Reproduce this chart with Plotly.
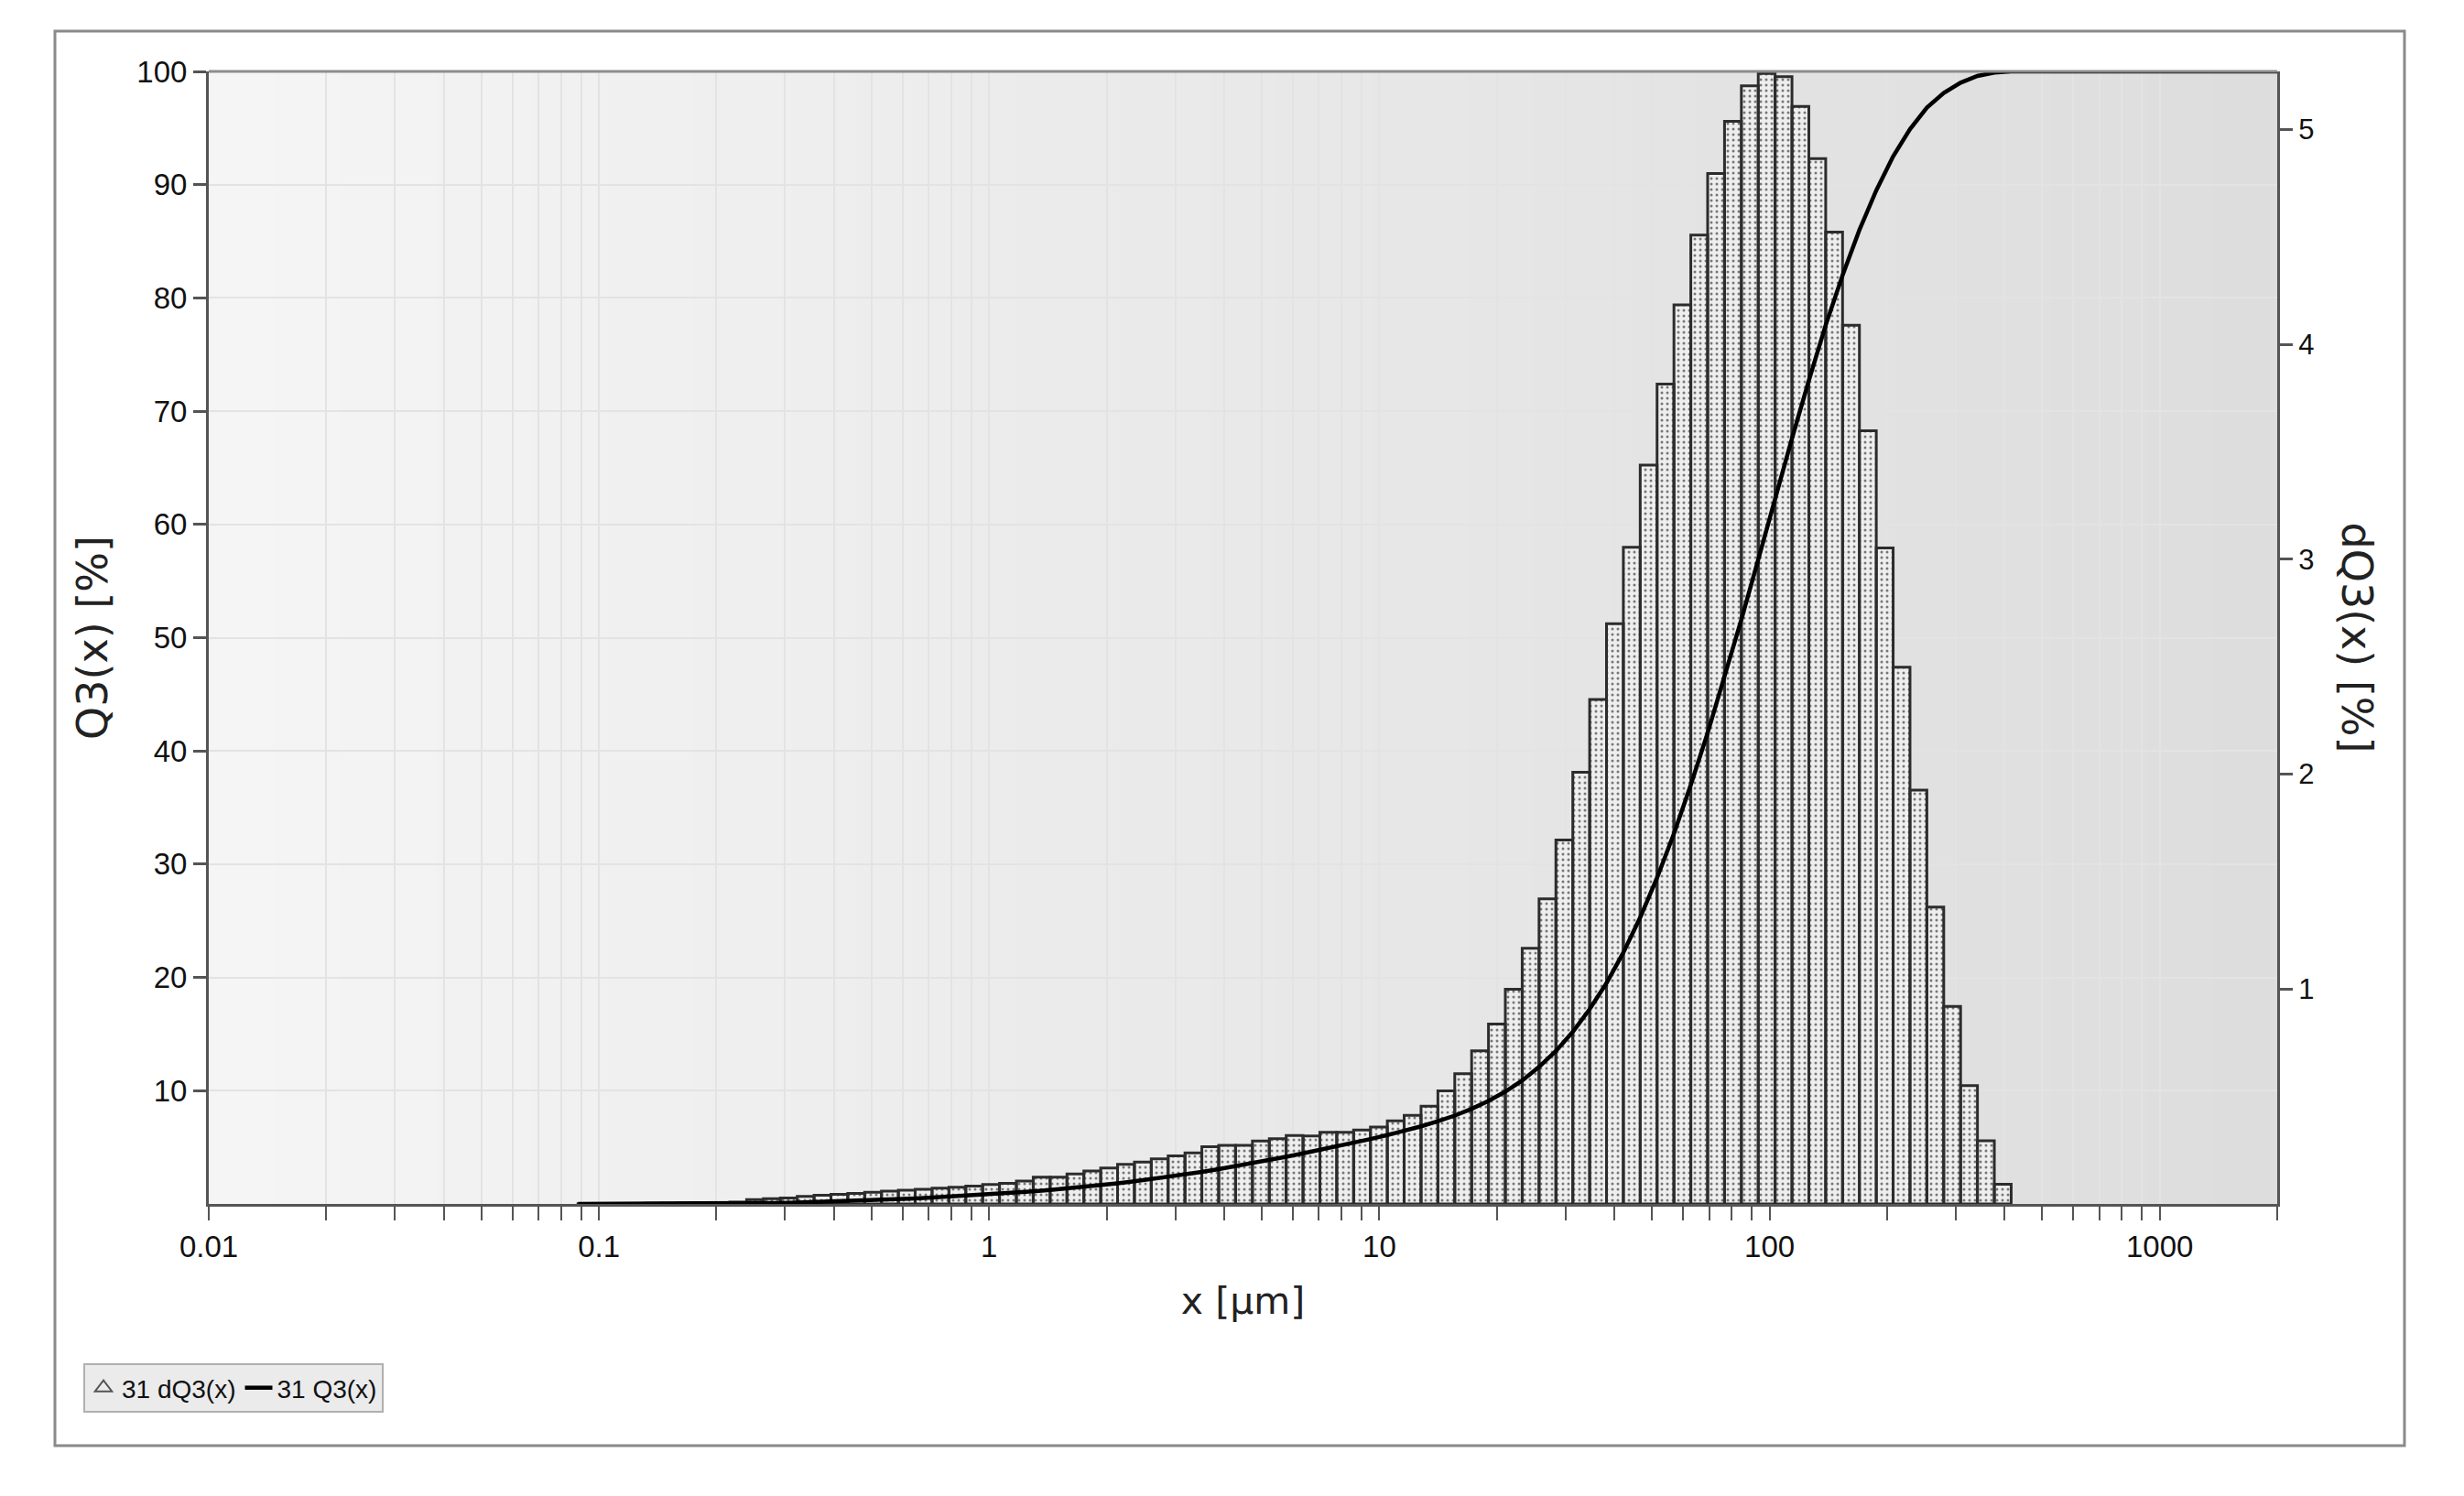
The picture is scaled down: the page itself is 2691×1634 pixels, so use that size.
import plotly.graph_objects as go

# channel upper/lower edges in µm
edges_um = [0.08836, 0.09762, 0.10783, 0.11911, 0.13157, 0.14533, 0.16054, 0.17733, 0.19588, 0.21637,
            0.23901, 0.26401, 0.29163, 0.32214, 0.35584, 0.39306, 0.43419, 0.47961, 0.52978, 0.58521,
            0.64643, 0.71405, 0.78875, 0.87126, 0.96237, 1.0630, 1.1742, 1.2971, 1.4328, 1.5827,
            1.7483, 1.9312, 2.1332, 2.3564, 2.6029, 2.8752, 3.1760, 3.5082, 3.8753, 4.2807,
            4.7285, 5.2231, 5.7695, 6.3731, 7.0398, 7.7763, 8.5898, 9.4884, 10.481, 11.577,
            12.789, 14.127, 15.604, 17.237, 19.040, 21.032, 23.232, 25.663, 28.347, 31.313,
            34.589, 38.207, 42.204, 46.619, 51.496, 56.884, 62.834, 69.408, 76.669, 84.690,
            93.550, 103.34, 114.15, 126.09, 139.28, 153.85, 169.95, 187.73, 207.37, 229.06,
            253.02, 279.49, 308.73, 341.03, 376.71, 416.12]

# dQ3 per channel [%] (right axis)
dq3 = [0.001, 0.001, 0.002, 0.002, 0.003, 0.003, 0.004, 0.005, 0.006, 0.008,
       0.020, 0.024, 0.028, 0.035, 0.040, 0.045, 0.049, 0.054, 0.060, 0.064,
       0.068, 0.074, 0.078, 0.083, 0.090, 0.096, 0.106, 0.125, 0.125, 0.139,
       0.153, 0.167, 0.184, 0.195, 0.210, 0.224, 0.238, 0.266, 0.273, 0.273,
       0.293, 0.304, 0.318, 0.316, 0.333, 0.333, 0.344, 0.358, 0.387, 0.412,
       0.455, 0.526, 0.606, 0.713, 0.837, 0.999, 1.190, 1.420, 1.693, 2.009,
       2.347, 2.700, 3.056, 3.438, 3.815, 4.184, 4.509, 4.795, 5.038, 5.203,
       5.260, 5.246, 5.107, 4.864, 4.522, 4.089, 3.598, 3.053, 2.498, 1.926,
       1.381, 0.919, 0.551, 0.294, 0.092]

# cumulative Q3 [%] at the channel edges (left axis)
q3_x = edges_um + [2000]
q3 = [0.00, 0.00, 0.01, 0.01, 0.01, 0.02, 0.02, 0.03, 0.03, 0.04,
      0.05, 0.07, 0.09, 0.12, 0.16, 0.20, 0.25, 0.30, 0.36, 0.42,
      0.49, 0.56, 0.64, 0.72, 0.81, 0.90, 1.00, 1.11, 1.23, 1.36,
      1.50, 1.65, 1.82, 2.00, 2.19, 2.39, 2.60, 2.83, 3.07, 3.33,
      3.60, 3.88, 4.17, 4.47, 4.77, 5.08, 5.40, 5.73, 6.08, 6.45,
      6.85, 7.30, 7.80, 8.40, 9.10, 9.92, 10.9, 12.1, 13.5, 15.2,
      17.2, 19.5, 22.2, 25.3, 28.8, 32.7, 37.0, 41.6, 46.5, 51.6,
      56.9, 62.3, 67.6, 72.7, 77.6, 82.0, 86.0, 89.5, 92.5, 94.9,
      96.8, 98.1, 99.0, 99.6, 99.9, 100.0, 100.0]

x_ticks = [0.01, 0.1, 1, 10, 100, 1000]
x_tick_text = ["0.01", "0.1", "1", "10", "100", "1000"]
left_ticks = [10, 20, 30, 40, 50, 60, 70, 80, 90, 100]
right_ticks = [1, 2, 3, 4, 5]

NARROW = "Liberation Sans Narrow, Arial Narrow, Liberation Sans, Arial, sans-serif"
TITLE = "DejaVu Sans, Verdana, sans-serif"
AXIS = "#555555"
GRID = "#e3e3e3"

# page body adds an 8px margin, so the figure is 16px smaller and shifted
W, H = 2675, 1618
L, R, T, B = 220, 2479, 70, 1307

def px(x):
    return (x - L) / (R - L)

def py(y):
    return (B - y) / (B - T)

# each channel as its own closed outline
bx, by = [], []
for lo, hi, h in zip(edges_um[:-1], edges_um[1:], dq3):
    bx += [lo, lo, hi, hi, lo, None]
    by += [0, h, h, 0, 0, None]

fig = go.Figure()

# legend stand-in for the histogram (triangle icon like the original)
fig.add_trace(go.Scatter(
    x=[None], y=[None], mode="markers", name="31 dQ3(x)",
    marker=dict(symbol="triangle-up-open", size=20, color="#555555", line=dict(width=2))))

fig.add_trace(go.Scatter(
    x=bx, y=by, yaxis="y", mode="lines", fill="toself",
    line=dict(color="#2c2c2c", width=3),
    fillcolor="#ececec",
    fillpattern=dict(shape=".", fgcolor="#000000", bgcolor="#eeeeee", size=6, solidity=0.2),
    name="31 dQ3(x)", showlegend=False, hoverinfo="skip"))

fig.add_trace(go.Scatter(
    x=q3_x, y=q3, yaxis="y2", mode="lines", line=dict(color="#000000", width=4.5),
    name="31 Q3(x)"))

minor_vals = [m * 10 ** e for e in range(-2, 4) for m in range(2, 10) if m * 10 ** e <= 2000]

fig.update_layout(
    width=W, height=H, autosize=False,
    margin=dict(l=L, r=W - R, t=T, b=H - B, pad=0),
    paper_bgcolor="white", plot_bgcolor="rgba(0,0,0,0)",
    showlegend=True,
    legend=dict(orientation="h", x=px(83), y=py(1481),
                xanchor="left", yanchor="top", bgcolor="#ebebeb", bordercolor="#b0b0b0",
                borderwidth=2, font=dict(family=NARROW, size=28, color="#111111"),
                itemwidth=30, traceorder="normal"),
    xaxis=dict(type="log", range=[-2, 3.30103], tickvals=x_ticks, ticktext=x_tick_text,
               ticks="outside", ticklen=15, tickwidth=2, tickcolor=AXIS,
               showline=True, linecolor=AXIS, linewidth=3,
               showgrid=True, gridcolor=GRID, gridwidth=2, zeroline=False,
               tickfont=dict(family=NARROW, size=33, color="#111111"),
               minor=dict(tickvals=minor_vals, ticks="outside", ticklen=15, tickwidth=2,
                          tickcolor=AXIS, showgrid=True, gridcolor=GRID, gridwidth=2),
               title=dict(text="x [µm]", font=dict(family=TITLE, size=41, color="#222222"),
                          standoff=28)),
    # dQ3 axis (right) is the base so the Q3 line sits on top of the bars
    yaxis=dict(range=[0, 5.27], side="right", tickvals=right_ticks,
               ticks="outside", ticklen=14, tickwidth=3, tickcolor=AXIS,
               showline=True, linecolor=AXIS, linewidth=3, showgrid=False, zeroline=False,
               tickfont=dict(family="Liberation Sans, Arial, sans-serif", size=31, color="#111111")),
    yaxis2=dict(range=[0, 100], overlaying="y", side="left", tickvals=left_ticks,
                ticks="outside", ticklen=14, tickwidth=3,
                tickcolor=AXIS, showline=True, linecolor=AXIS, linewidth=3,
                showgrid=True, gridcolor=GRID, gridwidth=2, zeroline=False,
                tickfont=dict(family=NARROW, size=33, color="#111111"),
                title=dict(text="Q3(x) [%]", font=dict(family=TITLE, size=46, color="#222222"),
                           standoff=18)),
)

# soft horizontal gradient behind the grid
n = 64
for i in range(n):
    g = round(245 - (245 - 221) * i / (n - 1))
    fig.add_shape(type="rect", xref="paper", yref="paper", x0=i / n, x1=(i + 1) / n + 0.001,
                  y0=0, y1=1, layer="below", line_width=0, fillcolor=f"rgb({g},{g},{g})")

# top border of plot area
fig.add_shape(type="line", xref="paper", yref="paper", x0=0, x1=1, y0=1, y1=1,
              line=dict(color="#8c8c8c", width=3))

# outer frame
fig.add_shape(type="rect", xref="paper", yref="paper",
              x0=px(52), x1=px(2618), y0=py(1571), y1=py(26),
              line=dict(color="#8a8a8a", width=3))

fig.add_annotation(text="dQ3(x) [%]", textangle=90, xref="paper", yref="paper",
                   x=px(2569), xanchor="left", xshift=-32, y=0.5, showarrow=False,
                   font=dict(family=TITLE, size=46, color="#222222"))

fig.write_html("out.html")
